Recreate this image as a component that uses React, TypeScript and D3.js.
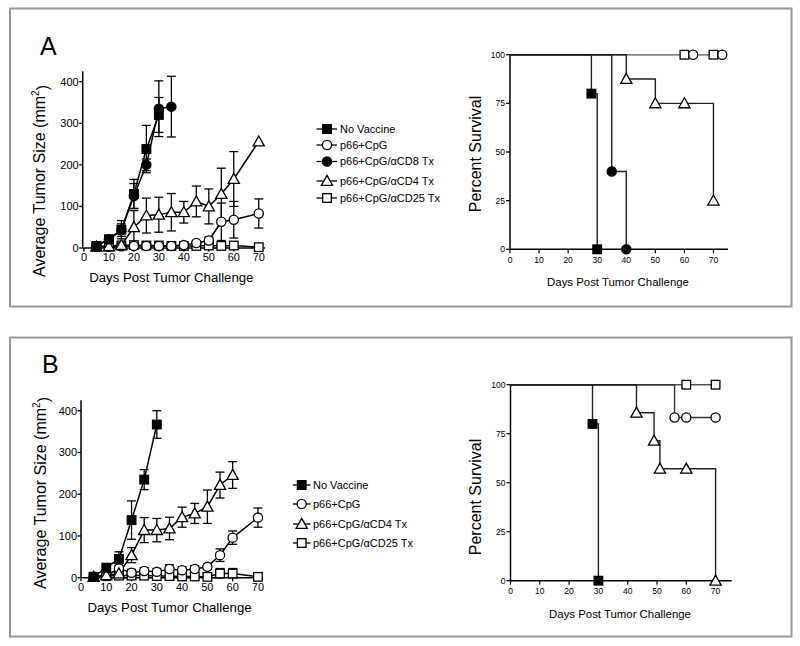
import React from 'react';
import * as d3 from 'd3';

const FONT = "'Liberation Sans', Arial, Helvetica, sans-serif";

// ---------- Data ----------
const DAYS_ALL = [5, 10, 15, 20, 25, 30, 35, 40, 45, 50, 55, 60, 70];
const DAYS_TO30 = [5, 10, 15, 20, 25, 30];
const DAYS_TO35 = [5, 10, 15, 20, 25, 30, 35];
const DAYS_TO60 = [5, 10, 15, 20, 25, 30, 35, 40, 45, 50, 55, 60];

// Panel A tumor size
const A_noVacMean = [5, 21, 44, 130, 238, 320];
const A_noVacErr = [2, 4, 22, 35, 57, 42];
const A_cd8Mean = [5, 21, 43, 125, 200, 335, 340];
const A_cd8Err = [2, 4, 15, 30, 14, 67, 73];
const A_cd4Mean = [3, 4, 7, 50, 78, 80, 86, 86, 112, 100, 130, 166, 256];
const A_cd4Err = [2, 2, 4, 40, 42, 42, 45, 26, 37, 42, 62, 66, 0];
const A_p66Mean = [3, 3, 4, 5, 5, 5, 5, 7, 12, 18, 63, 68, 83];
const A_p66Err = [2, 2, 2, 3, 3, 3, 3, 4, 5, 8, 45, 44, 35];
const A_cd25Mean = [3, 4, 6, 7, 6, 6, 5, 5, 5, 6, 5, 6, 2];
const A_cd25Err = [2, 2, 3, 3, 3, 3, 3, 3, 3, 3, 3, 3, 0];

// Panel B tumor size
const B_noVacMean = [2, 24, 45, 138, 235, 367];
const B_noVacErr = [2, 5, 17, 46, 24, 33];
const B_cd4Mean = [2, 6, 10, 54, 114, 114, 118, 145, 154, 170, 222, 246];
const B_cd4Err = [2, 3, 5, 18, 30, 28, 27, 24, 24, 40, 31, 32];
const B_p66Mean = [2, 5, 22, 12, 16, 14, 21, 18, 21, 26, 54, 96, 144];
const B_p66Err = [2, 3, 8, 8, 8, 8, 10, 8, 8, 6, 15, 16, 23];
const B_cd25Mean = [2, 4, 5, 5, 5, 4, 4, 3, 3, 2, 10, 10, 2];
const B_cd25Err = [2, 3, 4, 5, 5, 5, 5, 4, 4, 4, 12, 12, 0];

// Survival [day, percent]
const SA_noVac: [number, number][] = [[0, 100], [28, 80], [30, 0]];
const SA_cd8: [number, number][] = [[0, 100], [35, 40], [40, 0]];
const SA_cd4: [number, number][] = [[0, 100], [40, 87.5], [50, 75], [60, 75], [70, 25]];
const SA_p66: [number, number][] = [[0, 100], [63, 100], [73, 100]];
const SA_cd25: [number, number][] = [[0, 100], [60, 100], [70, 100]];

const SB_noVac: [number, number][] = [[0, 100], [28, 80], [30, 0]];
const SB_cd4: [number, number][] = [[0, 100], [43, 85.7], [49, 71.4], [51, 57.1], [60, 57.1], [70, 0]];
const SB_p66: [number, number][] = [[0, 100], [56, 83.3], [60, 83.3], [70, 83.3]];
const SB_cd25: [number, number][] = [[0, 100], [60, 100], [70, 100]];

const X_TICKS = [0, 10, 20, 30, 40, 50, 60, 70];
const TUMOR_Y_TICKS = [0, 100, 200, 300, 400];
const SURV_Y_TICKS = [0, 25, 50, 75, 100];

const LEG_A = ['No Vaccine', 'p66+CpG', 'p66+CpG/\u03B1CD8 Tx', 'p66+CpG/\u03B1CD4 Tx', 'p66+CpG/\u03B1CD25 Tx'];
const LEG_A_SHAPES = ['fsq', 'ocirc', 'fcirc', 'otri', 'osq'];
const LEG_B = ['No Vaccine', 'p66+CpG', 'p66+CpG/\u03B1CD4 Tx', 'p66+CpG/\u03B1CD25 Tx'];
const LEG_B_SHAPES = ['fsq', 'ocirc', 'otri', 'osq'];

// ---------- Helpers ----------
function Marker({ shape, x, y }: { shape: string; x: number; y: number }) {
  const fill = shape[0] === 'f' ? '#000' : '#fff';
  const sw = 1.3;
  if (shape.endsWith('sq'))
    return <rect x={x - 4.3} y={y - 4.3} width={8.6} height={8.6} fill={fill} stroke="#000" strokeWidth={sw} />;
  if (shape.endsWith('circ'))
    return <circle cx={x} cy={y} r={4.6} fill={fill} stroke="#000" strokeWidth={sw} />;
  return (
    <path
      d={`M${x},${y - 5.6}L${x + 5.6},${y + 4.4}L${x - 5.6},${y + 4.4}Z`}
      fill={fill}
      stroke="#000"
      strokeWidth={sw}
      strokeLinejoin="miter"
    />
  );
}

type TSeries = { days: number[]; mean: number[]; err: number[]; shape: string };

function TumorChart({
  xDom, xRange, yRange, series, label, labelX, labelY, yTitleX, yTitleY, xTitleY,
}: any) {
  const x = d3.scaleLinear().domain(xDom).range(xRange);
  const y = d3.scaleLinear().domain([0, 425]).range(yRange);
  const x0 = xRange[0];
  const y0 = y(0);
  const line = d3.line<[number, number]>().x((d) => x(d[0])).y((d) => y(d[1]));
  const midX = (x(0) + x(70)) / 2;
  return (
    <g>
      <text x={labelX} y={labelY} fontSize={25} fontFamily={FONT}>{label}</text>
      {/* axes */}
      <line x1={x0} x2={x0} y1={y0} y2={yRange[1]} stroke="#000" strokeWidth={1.5} />
      <line x1={x0} x2={xRange[1]} y1={y0} y2={y0} stroke="#000" strokeWidth={1.5} />
      {TUMOR_Y_TICKS.map((t) => (
        <g key={'y' + t}>
          <line x1={x0 - 3.5} x2={x0} y1={y(t)} y2={y(t)} stroke="#000" strokeWidth={1.3} />
          <text x={x0 - 4} y={y(t)} dy="0.36em" textAnchor="end" fontSize={11} fontFamily={FONT}>{t}</text>
        </g>
      ))}
      {X_TICKS.map((t) => (
        <g key={'x' + t}>
          <line x1={x(t)} x2={x(t)} y1={y0} y2={y0 + 3.5} stroke="#000" strokeWidth={1.3} />
          <text x={x(t)} y={y0 + 5} dy="0.76em" textAnchor="middle" fontSize={11} fontFamily={FONT}>{t}</text>
        </g>
      ))}
      <text x={midX} y={xTitleY} textAnchor="middle" fontSize={13.2} fontFamily={FONT}>Days Post Tumor Challenge</text>
      <text
        transform={`translate(${yTitleX},${yTitleY}) rotate(-90)`}
        textAnchor="middle"
        dy="0.35em"
        fontSize={16}
        fontFamily={FONT}
      >
        Average Tumor Size (mm<tspan fontSize={10} dy="-0.6em">2</tspan><tspan dy="0.6em">)</tspan>
      </text>
      {series.map((s: TSeries, i: number) => {
        const pts = s.days.map((d, j) => [d, s.mean[j]] as [number, number]);
        return (
          <g key={'s' + i}>
            <path d={line(pts) || ''} fill="none" stroke="#000" strokeWidth={1.5} />
            {s.days.map((d, j) =>
              s.err[j] > 0 ? (
                <g key={'e' + j}>
                  <line x1={x(d)} x2={x(d)} y1={y(s.mean[j] + s.err[j])} y2={y(Math.max(0, s.mean[j] - s.err[j]))} stroke="#000" strokeWidth={1.3} />
                  <line x1={x(d) - 4.5} x2={x(d) + 4.5} y1={y(s.mean[j] + s.err[j])} y2={y(s.mean[j] + s.err[j])} stroke="#000" strokeWidth={1.3} />
                  <line x1={x(d) - 4.5} x2={x(d) + 4.5} y1={y(Math.max(0, s.mean[j] - s.err[j]))} y2={y(Math.max(0, s.mean[j] - s.err[j]))} stroke="#000" strokeWidth={1.3} />
                </g>
              ) : null
            )}
          </g>
        );
      })}
      {series.map((s: TSeries, i: number) => (
        <g key={'m' + i}>
          {s.days.map((d, j) => (
            <Marker key={j} shape={s.shape} x={x(d)} y={y(s.mean[j])} />
          ))}
        </g>
      ))}
    </g>
  );
}

type SSeries = { pts: [number, number][]; shape: string; color: string };

function SurvChart({ xDom, xRange, yRange, series, yTitleX, yTitleY, xTitleX, xTitleY }: any) {
  const x = d3.scaleLinear().domain(xDom).range(xRange);
  const y = d3.scaleLinear().domain([0, 100]).range(yRange);
  const x0 = xRange[0];
  const y0 = y(0);
  const step = d3.line<[number, number]>().x((d) => x(d[0])).y((d) => y(d[1])).curve(d3.curveStepAfter);
  return (
    <g>
      {series.map((s: SSeries, i: number) => (
        <path key={'l' + i} d={step(s.pts) || ''} fill="none" stroke={s.color} strokeWidth={1.4} />
      ))}
      <line x1={x0} x2={x0} y1={y0} y2={y(100)} stroke="#000" strokeWidth={1.5} />
      <line x1={x0} x2={xRange[1]} y1={y0} y2={y0} stroke="#000" strokeWidth={1.5} />
      {SURV_Y_TICKS.map((t) => (
        <g key={'y' + t}>
          <line x1={x0 - 4} x2={x0} y1={y(t)} y2={y(t)} stroke="#000" strokeWidth={1.2} />
          <text x={x0 - 5} y={y(t)} dy="0.36em" textAnchor="end" fontSize={8.5} fontFamily={FONT}>{t}</text>
        </g>
      ))}
      {X_TICKS.map((t) => (
        <g key={'x' + t}>
          <line x1={x(t)} x2={x(t)} y1={y0} y2={y0 + 4} stroke="#000" strokeWidth={1.2} />
          <text x={x(t)} y={y0 + 7} dy="0.76em" textAnchor="middle" fontSize={8.5} fontFamily={FONT}>{t}</text>
        </g>
      ))}
      {series.map((s: SSeries, i: number) => (
        <g key={'m' + i}>
          {s.pts.slice(1).map((p, j) => (
            <Marker key={j} shape={s.shape} x={x(p[0])} y={y(p[1])} />
          ))}
        </g>
      ))}
      <text x={xTitleX} y={xTitleY} dy="0.35em" textAnchor="middle" fontSize={11.4} fontFamily={FONT}>Days Post Tumor Challenge</text>
      <text transform={`translate(${yTitleX},${yTitleY}) rotate(-90)`} dy="0.35em" textAnchor="middle" fontSize={16} fontFamily={FONT}>
        Percent Survival
      </text>
    </g>
  );
}

function Legend({ labels, shapes, rows, cx, x1, x2, tx }: any) {
  return (
    <g>
      {labels.map((l: string, i: number) => (
        <g key={i}>
          <line x1={x1} x2={x2} y1={rows[i]} y2={rows[i]} stroke="#000" strokeWidth={1.3} />
          <Marker shape={shapes[i]} x={cx} y={rows[i]} />
          <text x={tx} y={rows[i]} dy="0.36em" fontSize={11} fontFamily={FONT}>{l}</text>
        </g>
      ))}
    </g>
  );
}

export default function App() {
  const tumorA: TSeries[] = [
    { days: DAYS_ALL, mean: A_cd25Mean, err: A_cd25Err, shape: 'osq' },
    { days: DAYS_ALL, mean: A_p66Mean, err: A_p66Err, shape: 'ocirc' },
    { days: DAYS_ALL, mean: A_cd4Mean, err: A_cd4Err, shape: 'otri' },
    { days: DAYS_TO35, mean: A_cd8Mean, err: A_cd8Err, shape: 'fcirc' },
    { days: DAYS_TO30, mean: A_noVacMean, err: A_noVacErr, shape: 'fsq' },
  ];
  const tumorB: TSeries[] = [
    { days: DAYS_ALL, mean: B_cd25Mean, err: B_cd25Err, shape: 'osq' },
    { days: DAYS_ALL, mean: B_p66Mean, err: B_p66Err, shape: 'ocirc' },
    { days: DAYS_TO60, mean: B_cd4Mean, err: B_cd4Err, shape: 'otri' },
    { days: DAYS_TO30, mean: B_noVacMean, err: B_noVacErr, shape: 'fsq' },
  ];
  const survA: SSeries[] = [
    { pts: SA_p66, shape: 'ocirc', color: '#888' },
    { pts: SA_cd25, shape: 'osq', color: '#888' },
    { pts: SA_cd4, shape: 'otri', color: '#222' },
    { pts: SA_cd8, shape: 'fcirc', color: '#222' },
    { pts: SA_noVac, shape: 'fsq', color: '#222' },
  ];
  const survB: SSeries[] = [
    { pts: SB_cd25, shape: 'osq', color: '#555' },
    { pts: SB_p66, shape: 'ocirc', color: '#333' },
    { pts: SB_cd4, shape: 'otri', color: '#222' },
    { pts: SB_noVac, shape: 'fsq', color: '#222' },
  ];
  return (
    <svg width={800} height={646} style={{ position: 'absolute', left: 0, top: 0, background: '#fff' }}>
      <rect x={0} y={0} width={800} height={646} fill="#fff" />
      <rect x={10} y={8.5} width={781.5} height={298} fill="none" stroke="#999" strokeWidth={2} />
      <rect x={10} y={337.5} width={781.5} height={299} fill="none" stroke="#999" strokeWidth={2} />

      <TumorChart
        xDom={[-0.5, 72.5]} xRange={[82.7, 265]} yRange={[248, 71.3]}
        series={tumorA} label="A" labelX={40} labelY={55}
        yTitleX={39} yTitleY={181} xTitleY={282}
      />
      <Legend labels={LEG_A} shapes={LEG_A_SHAPES} rows={[129, 145, 161.5, 181, 198]} cx={327} x1={316.5} x2={337} tx={340} />
      <SurvChart
        xDom={[0, 75]} xRange={[510, 728]} yRange={[249.3, 54.7]}
        series={survA} yTitleX={475} yTitleY={154} xTitleX={618} xTitleY={281.7}
      />

      <TumorChart
        xDom={[0, 72]} xRange={[81, 263]} yRange={[577.7, 400.3]}
        series={tumorB} label="B" labelX={42} labelY={373}
        yTitleX={40} yTitleY={493} xTitleY={612}
      />
      <Legend labels={LEG_B} shapes={LEG_B_SHAPES} rows={[485, 504, 524, 543]} cx={301.7} x1={293} x2={310.5} tx={313} />
      <SurvChart
        xDom={[0, 75.5]} xRange={[510.5, 731.7]} yRange={[580.7, 384.7]}
        series={survB} yTitleX={475} yTitleY={497} xTitleX={620} xTitleY={614.3}
      />
    </svg>
  );
}
